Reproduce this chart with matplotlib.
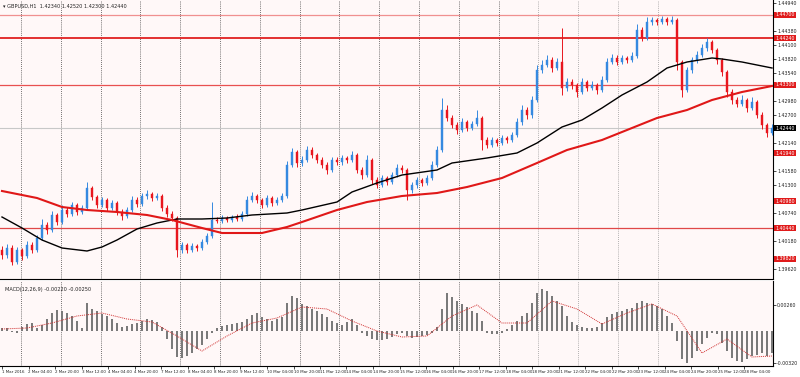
import numpy as np
import matplotlib
matplotlib.use("Agg")
import matplotlib.pyplot as plt

# ---- price data (one candle per slot) ----
opens = [1.4000, 1.3990, 1.4004, 1.3976, 1.4000, 1.3988, 1.4010, 1.4000, 1.4024, 1.4050,
         1.4040, 1.4070, 1.4056, 1.4080, 1.4072, 1.4090, 1.4076, 1.4084, 1.4124, 1.4106,
         1.4090, 1.4100, 1.4084, 1.4094, 1.4076, 1.4068, 1.4080, 1.4100, 1.4092, 1.4108,
         1.4112, 1.4104, 1.4108, 1.4084, 1.4072, 1.4064, 1.4000, 1.4010, 1.4000, 1.4008,
         1.4004, 1.4016, 1.4028, 1.4060, 1.4058, 1.4064, 1.4060, 1.4066, 1.4062, 1.4072,
         1.4100, 1.4108, 1.4100, 1.4090, 1.4104, 1.4094, 1.4100, 1.4108, 1.4170, 1.4196,
         1.4174, 1.4180, 1.4200, 1.4190, 1.4180, 1.4170, 1.4160, 1.4180, 1.4176, 1.4184,
         1.4180, 1.4190, 1.4160, 1.4150, 1.4180, 1.4140, 1.4130, 1.4144, 1.4136, 1.4150,
         1.4164, 1.4160, 1.4120, 1.4130, 1.4140, 1.4134, 1.4144, 1.4170, 1.4200, 1.4280,
         1.4264, 1.4250, 1.4240, 1.4256, 1.4244, 1.4252, 1.4264, 1.4220, 1.4210, 1.4220,
         1.4214, 1.4224, 1.4220, 1.4230, 1.4256, 1.4280, 1.4270, 1.4300, 1.4360, 1.4370,
         1.4380, 1.4364, 1.4376, 1.4324, 1.4336, 1.4330, 1.4316, 1.4336, 1.4324, 1.4330,
         1.4320, 1.4340, 1.4376, 1.4384, 1.4376, 1.4384, 1.4380, 1.4388, 1.4440, 1.4424,
         1.4456, 1.4460, 1.4456, 1.4462, 1.4456, 1.4460, 1.4376, 1.4320, 1.4360, 1.4380,
         1.4390, 1.4404, 1.4416, 1.4400, 1.4380, 1.4356, 1.4316, 1.4300, 1.4292, 1.4300,
         1.4284, 1.4296, 1.4270, 1.4250, 1.4234]
closes = [1.3990, 1.4004, 1.3976, 1.4000, 1.3988, 1.4010, 1.4000, 1.4024, 1.4050, 1.4040,
          1.4070, 1.4056, 1.4080, 1.4072, 1.4090, 1.4076, 1.4084, 1.4124, 1.4106, 1.4090,
          1.4100, 1.4084, 1.4094, 1.4076, 1.4068, 1.4080, 1.4100, 1.4092, 1.4108, 1.4112,
          1.4104, 1.4108, 1.4084, 1.4072, 1.4064, 1.4000, 1.4010, 1.4000, 1.4008, 1.4004,
          1.4016, 1.4028, 1.4060, 1.4058, 1.4064, 1.4060, 1.4066, 1.4062, 1.4072, 1.4100,
          1.4108, 1.4100, 1.4090, 1.4104, 1.4094, 1.4100, 1.4108, 1.4170, 1.4196, 1.4174,
          1.4180, 1.4200, 1.4190, 1.4180, 1.4170, 1.4160, 1.4180, 1.4176, 1.4184, 1.4180,
          1.4190, 1.4160, 1.4150, 1.4180, 1.4140, 1.4130, 1.4144, 1.4136, 1.4150, 1.4164,
          1.4160, 1.4120, 1.4130, 1.4140, 1.4134, 1.4144, 1.4170, 1.4200, 1.4280, 1.4264,
          1.4250, 1.4240, 1.4256, 1.4244, 1.4252, 1.4264, 1.4220, 1.4210, 1.4220, 1.4214,
          1.4224, 1.4220, 1.4230, 1.4256, 1.4280, 1.4270, 1.4300, 1.4360, 1.4370, 1.4380,
          1.4364, 1.4376, 1.4324, 1.4336, 1.4330, 1.4316, 1.4336, 1.4324, 1.4330, 1.4320,
          1.4340, 1.4376, 1.4384, 1.4376, 1.4384, 1.4380, 1.4388, 1.4440, 1.4424, 1.4456,
          1.4460, 1.4456, 1.4462, 1.4456, 1.4460, 1.4376, 1.4320, 1.4360, 1.4380, 1.4390,
          1.4404, 1.4416, 1.4400, 1.4380, 1.4356, 1.4316, 1.4300, 1.4292, 1.4300, 1.4284,
          1.4296, 1.4270, 1.4250, 1.4234, 1.4244]
highs = [1.4008, 1.4012, 1.4010, 1.4006, 1.4004, 1.4018, 1.4016, 1.4030, 1.4062, 1.4056,
         1.4078, 1.4074, 1.4090, 1.4086, 1.4096, 1.4094, 1.4090, 1.4136, 1.4128, 1.4110,
         1.4106, 1.4104, 1.4100, 1.4098, 1.4082, 1.4086, 1.4108, 1.4106, 1.4114, 1.4120,
         1.4116, 1.4114, 1.4112, 1.4090, 1.4078, 1.4068, 1.4016, 1.4014, 1.4014, 1.4012,
         1.4022, 1.4034, 1.4096, 1.4066, 1.4070, 1.4068, 1.4070, 1.4072, 1.4078, 1.4108,
         1.4116, 1.4112, 1.4104, 1.4110, 1.4108, 1.4106, 1.4114, 1.4178, 1.4204, 1.4200,
         1.4188, 1.4208, 1.4206, 1.4194, 1.4186, 1.4176, 1.4186, 1.4186, 1.4190, 1.4188,
         1.4198, 1.4194, 1.4166, 1.4190, 1.4184, 1.4146, 1.4150, 1.4148, 1.4156, 1.4172,
         1.4170, 1.4164, 1.4136, 1.4146, 1.4144, 1.4150, 1.4178, 1.4208, 1.4304, 1.4290,
         1.4270, 1.4256, 1.4264, 1.4260, 1.4258, 1.4280, 1.4268, 1.4226, 1.4226, 1.4224,
         1.4230, 1.4228, 1.4236, 1.4264, 1.4290, 1.4286, 1.4308, 1.4370, 1.4380, 1.4390,
         1.4386, 1.4384, 1.4444, 1.4344, 1.4342, 1.4334, 1.4344, 1.4340, 1.4338, 1.4334,
         1.4348, 1.4384, 1.4392, 1.4390, 1.4390, 1.4388, 1.4396, 1.4452, 1.4446, 1.4466,
         1.4466, 1.4464, 1.4468, 1.4466, 1.4468, 1.4464, 1.4380, 1.4366, 1.4386, 1.4398,
         1.4412, 1.4424, 1.4420, 1.4404, 1.4384, 1.4360, 1.4322, 1.4306, 1.4310, 1.4304,
         1.4306, 1.4300, 1.4276, 1.4254, 1.4252]
lows = [1.3982, 1.3984, 1.3970, 1.3972, 1.3980, 1.3984, 1.3994, 1.3996, 1.4020, 1.4032,
        1.4036, 1.4050, 1.4052, 1.4066, 1.4068, 1.4070, 1.4072, 1.4080, 1.4100, 1.4084,
        1.4086, 1.4078, 1.4080, 1.4070, 1.4060, 1.4064, 1.4076, 1.4086, 1.4088, 1.4102,
        1.4098, 1.4100, 1.4078, 1.4066, 1.4058, 1.3986, 1.3994, 1.3994, 1.3996, 1.3998,
        1.4000, 1.4012, 1.4024, 1.4054, 1.4054, 1.4056, 1.4056, 1.4058, 1.4058, 1.4068,
        1.4096, 1.4094, 1.4084, 1.4086, 1.4088, 1.4090, 1.4096, 1.4104, 1.4166, 1.4166,
        1.4168, 1.4176, 1.4184, 1.4174, 1.4164, 1.4152, 1.4156, 1.4170, 1.4170, 1.4174,
        1.4176, 1.4154, 1.4142, 1.4146, 1.4132, 1.4124, 1.4126, 1.4130, 1.4132, 1.4146,
        1.4154, 1.4100, 1.4114, 1.4124, 1.4128, 1.4130, 1.4140, 1.4166, 1.4196, 1.4258,
        1.4244, 1.4232, 1.4236, 1.4238, 1.4240, 1.4248, 1.4200, 1.4204, 1.4206, 1.4208,
        1.4210, 1.4214, 1.4216, 1.4226, 1.4250, 1.4262, 1.4264, 1.4296, 1.4354, 1.4366,
        1.4356, 1.4360, 1.4310, 1.4318, 1.4322, 1.4306, 1.4312, 1.4318, 1.4320, 1.4312,
        1.4316, 1.4336, 1.4372, 1.4370, 1.4372, 1.4374, 1.4376, 1.4384, 1.4418, 1.4420,
        1.4450, 1.4450, 1.4452, 1.4450, 1.4452, 1.4360, 1.4306, 1.4316, 1.4354, 1.4374,
        1.4386, 1.4398, 1.4394, 1.4372, 1.4348, 1.4306, 1.4292, 1.4286, 1.4288, 1.4276,
        1.4280, 1.4264, 1.4242, 1.4226, 1.4230]

# moving averages, read at a few bars
ma_black_idx = [0, 4, 8, 12, 17, 20, 23, 27, 31, 35, 40, 45, 50, 57, 60, 67, 70, 75, 80, 87,
                90, 97, 103, 107, 112, 116, 120, 124, 129, 133, 137, 142, 144, 148, 154]
ma_black = [1.4066, 1.4044, 1.4020, 1.4004, 1.3998, 1.4006, 1.4020, 1.4042, 1.4054, 1.4062,
            1.4062, 1.4064, 1.4070, 1.4074, 1.4080, 1.4096, 1.4116, 1.4134, 1.4150, 1.4160,
            1.4174, 1.4184, 1.4194, 1.4214, 1.4246, 1.4260, 1.4284, 1.4310, 1.4336, 1.4364,
            1.4376, 1.4384, 1.4382, 1.4376, 1.4364]
ma_red_idx = [0, 7, 12, 17, 23, 29, 34, 40, 44, 50, 52, 57, 60, 67, 73, 80, 87, 93, 100, 107,
              113, 120, 124, 131, 137, 142, 148, 154]
ma_red = [1.4118, 1.4104, 1.4086, 1.4080, 1.4076, 1.4070, 1.4060, 1.4044, 1.4034, 1.4034,
          1.4034, 1.4046, 1.4056, 1.4080, 1.4096, 1.4108, 1.4114, 1.4126, 1.4144, 1.4174,
          1.4200, 1.4220, 1.4236, 1.4264, 1.4280, 1.4300, 1.4316, 1.4328]

# MACD histogram and signal
macd = [0.0003, 0.0003, -0.0001, -0.0002, 0.0004, 0.0007, 0.0008, 0.0003, 0.0006, 0.0012,
        0.0018, 0.0021, 0.0020, 0.0018, 0.0015, 0.0010, 0.0003, 0.0028, 0.0022, 0.0020,
        0.0017, 0.0015, 0.0012, 0.0008, 0.0004, 0.0005, 0.0007, 0.0008, 0.0010, 0.0012,
        0.0011, 0.0009, 0.0004, -0.0008, -0.0018, -0.0026, -0.0027, -0.0025, -0.0022, -0.0018,
        -0.0014, -0.0008, -0.0002, 0.0003, 0.0005, 0.0006, 0.0007, 0.0008, 0.0009, 0.0012,
        0.0016, 0.0018, 0.0014, 0.0012, 0.0010, 0.0012, 0.0014, 0.0028, 0.0035, 0.0033,
        0.0027, 0.0025, 0.0022, 0.0020, 0.0017, 0.0014, 0.0010, 0.0008, 0.0006, 0.0009,
        0.0012, 0.0006, -0.0002, -0.0005, -0.0008, -0.0009, -0.0009, -0.0008, -0.0006, -0.0003,
        -0.0002, -0.0005, -0.0007, -0.0006, -0.0005, -0.0004, -0.0002, 0.0004, 0.0022, 0.0038,
        0.0034, 0.0030, 0.0027, 0.0024, 0.0020, 0.0018, 0.0010, -0.0002, -0.0003, -0.0003,
        -0.0002, 0.0002, 0.0006, 0.0010, 0.0015, 0.0018, 0.0028, 0.0038, 0.0042, 0.0040,
        0.0035, 0.0030, 0.0025, 0.0015, 0.0009, 0.0006, 0.0004, 0.0003, 0.0003, 0.0004,
        0.0008, 0.0014, 0.0017, 0.0019, 0.0020, 0.0022, 0.0023, 0.0028, 0.0030, 0.0028,
        0.0027, 0.0025, 0.0022, 0.0015, 0.0008, -0.0010, -0.0028, -0.0032, -0.0027, -0.0020,
        -0.0013, -0.0007, -0.0002, -0.0003, -0.0012, -0.0020, -0.0027, -0.0030, -0.0031, -0.0028,
        -0.0025, -0.0024, -0.0022, -0.0025, -0.0022]
signal_idx = [0, 5, 10, 15, 20, 25, 30, 35, 40, 45, 50, 55, 60, 65, 70, 75, 80, 85, 90, 95,
              100, 105, 110, 115, 120, 125, 130, 135, 140, 145, 150, 154]
signal = [0.0002, 0.0003, 0.0008, 0.0015, 0.0018, 0.0012, 0.0009, -0.0005, -0.0020, -0.0005,
          0.0008, 0.0013, 0.0024, 0.0022, 0.0010, 0.0000, -0.0006, -0.0005, 0.0015, 0.0026,
          0.0008, 0.0008, 0.0030, 0.0022, 0.0007, 0.0018, 0.0027, 0.0015, -0.0022, -0.0008,
          -0.0026, -0.0025]

# levels and labels
red_lines = [1.4470, 1.4424, 1.4330, 1.4044]
red_line_colors = ["#f09090", "#e02020", "#e85050", "#e04848"]
red_line_widths = [0.9, 1.3, 0.9, 0.9]
red_tags = [1.4194, 1.4098, 1.3982]
price_ticks = [1.4494, 1.4466, 1.4438, 1.4410, 1.4382, 1.4354, 1.4326, 1.4298, 1.4270,
               1.4214, 1.4186, 1.4158, 1.4130, 1.4102, 1.4074, 1.4046, 1.4018, 1.3990, 1.3962]
macd_ticks = [0.0026, -0.0032]
time_labels = ["1 Mar 2016", "2 Mar 04:00", "2 Mar 20:00", "3 Mar 12:00", "4 Mar 04:00",
               "4 Mar 20:00", "7 Mar 12:00", "8 Mar 04:00", "8 Mar 20:00", "9 Mar 12:00",
               "10 Mar 04:00", "10 Mar 20:00", "11 Mar 12:00", "14 Mar 04:00", "14 Mar 20:00",
               "15 Mar 12:00", "16 Mar 04:00", "16 Mar 20:00", "17 Mar 12:00", "18 Mar 04:00",
               "18 Mar 20:00", "21 Mar 12:00", "22 Mar 04:00", "22 Mar 20:00", "23 Mar 12:00",
               "24 Mar 04:00", "24 Mar 20:00", "25 Mar 12:00", "28 Mar 04:00"]

up_col = "#3589e0"
dn_col = "#e8161e"
bg = "#fff8f8"
txt = dict(fontsize=3.6, color="#222222")

o = np.array(opens)
c = np.array(closes)
h = np.array(highs)
l = np.array(lows)
x = np.arange(len(c))
up = c >= o
cols = np.where(up, up_col, dn_col)
last = closes[-1]

fig = plt.figure(figsize=(8, 3.77), dpi=100, facecolor="white")
ax = fig.add_axes([0, 1 - 279 / 377, 773 / 800, 279 / 377], facecolor=bg)
ax2 = fig.add_axes([0, 1 - 366 / 377, 773 / 800, 85 / 377], facecolor=bg)

for a in (ax, ax2):
    a.set_xlim(-0.4, 154.2)
    for s in ("top", "left"):
        a.spines[s].set_visible(False)
    a.spines["right"].set_linewidth(0.8)
    a.spines["bottom"].set_linewidth(0.8)
    a.yaxis.tick_right()
    a.tick_params(axis="y", length=2, width=0.5, pad=1, labelsize=3.4, labelcolor="#222222")
    for k in range(17):
        a.axvline(3.8 + 7.96 * k, color="#444444" if k < 13 else "#999999",
                  lw=0.6, ls=(0, (1, 1.5)), zorder=1)

# main price panel
ax.set_ylim(1.3942, 1.4500)
ax.tick_params(axis="x", bottom=False, labelbottom=False)
# skip plain tick labels that would sit under a level tag
tagged = red_lines + red_tags + [last]
shown = [t for t in price_ticks if min(abs(t - v) for v in tagged) > 0.0011]
ax.set_yticks(shown)
ax.set_yticklabels([f"{t:.5f}" for t in shown])


def tag(val, face):
    ax.text(1.003, val, f"{val:.5f}", transform=ax.get_yaxis_transform(), fontsize=3.4,
            color="white", va="center", ha="left", clip_on=False,
            bbox=dict(facecolor=face, edgecolor="none", pad=0.6))


for lv, col, lw in zip(red_lines, red_line_colors, red_line_widths):
    ax.axhline(lv, color=col, lw=lw, zorder=2)
    tag(lv, "#e01b1b")
for lv in red_tags:
    tag(lv, "#e01b1b")

ax.axhline(last, color="#c8c8c8", lw=0.8, zorder=2)
tag(last, "black")

ax.vlines(x, l, h, colors=cols, lw=0.7, zorder=3)
ax.bar(x, np.abs(c - o), bottom=np.minimum(o, c), width=0.45, color=cols,
       edgecolor=cols, linewidth=0.3, zorder=4)

ax.plot(ma_black_idx, ma_black, color="black", lw=1.0, zorder=5)
ax.plot(ma_red_idx, ma_red, color="#e01818", lw=1.5, zorder=5)

ax.text(0.004, 0.985, "\u25be GBPUSD,H1  " + f"{opens[-1]:.5f} {highs[-1]:.5f} {lows[-1]:.5f} {closes[-1]:.5f}",
        transform=ax.transAxes, va="top", ha="left", **txt)

# MACD panel
ax2.set_ylim(-0.0035, 0.0050)
ax2.bar(x, macd, width=0.5, color="#7a7a7a", zorder=3)
ax2.plot(signal_idx, signal, color="#d03030", lw=0.7, ls=(0, (1, 1)), zorder=4)
ax2.set_yticks(macd_ticks)
ax2.set_yticklabels([f"{t:.5f}" for t in macd_ticks])
ax2.set_xticks(np.arange(len(time_labels)) * 5.3)
ax2.set_xticklabels(time_labels)
ax2.tick_params(axis="x", length=2, width=0.5, pad=1, labelsize=2.9, labelcolor="#222222")
for t in ax2.get_xticklabels():
    t.set_ha("left")
ax2.text(0.006, 0.93, f"MACD(12,26,9) {macd[-1]:.5f} {signal[-1]:.5f}",
         transform=ax2.transAxes, va="top", ha="left", **txt)

fig.savefig("out.png", dpi=100, facecolor="white")
